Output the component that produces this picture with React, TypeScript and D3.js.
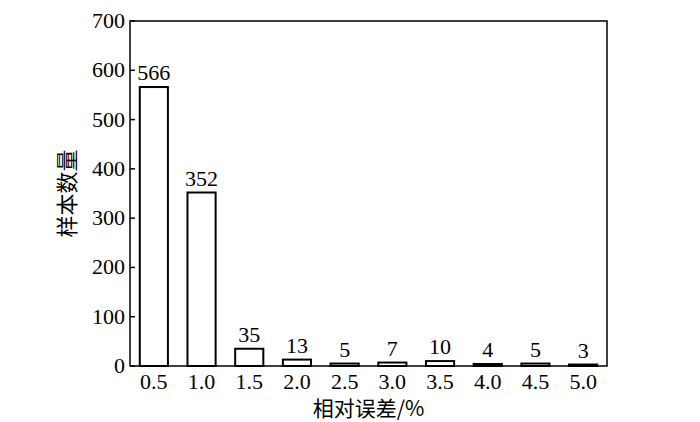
import React from 'react';
import * as d3 from 'd3';

const categories = ['0.5', '1.0', '1.5', '2.0', '2.5', '3.0', '3.5', '4.0', '4.5', '5.0'];
const counts = [566, 352, 35, 13, 5, 7, 10, 4, 5, 3];
const yTicks = [0, 100, 200, 300, 400, 500, 600, 700];

const yTitle = '样本数量';
const xTitle = '相对误差/%';

function App() {
    const width = 700;
    const height = 422;
    const margin = { top: 21, right: 93, bottom: 56, left: 130 };
    const innerW = width - margin.left - margin.right;
    const innerH = height - margin.top - margin.bottom;

    const x = d3.scaleBand()
        .domain(categories)
        .range([0, innerW])
        .paddingInner(0.41)
        .paddingOuter(0.205);

    const y = d3.scaleLinear()
        .domain([0, 700])
        .range([innerH, 0]);

    const numFont = '"Liberation Serif", "Times New Roman", serif';
    const cjkFont = '"Noto Sans CJK SC", sans-serif';
    const numSize = 22;

    return (
        <svg width={width} height={height} style={{ position: 'absolute', left: 0, top: 0, background: '#fff' }}>
            <g transform={`translate(${margin.left},${margin.top})`}>
                {/* bars */}
                {counts.map((v, i) => (
                    <rect
                        key={'b' + i}
                        x={x(categories[i])}
                        y={y(v)}
                        width={x.bandwidth()}
                        height={innerH - y(v)}
                        fill="#fff"
                        stroke="#000"
                        strokeWidth={2}
                    />
                ))}
                {/* value labels */}
                {counts.map((v, i) => (
                    <text
                        key={'l' + i}
                        x={x(categories[i]) + x.bandwidth() / 2}
                        y={y(v) - 7}
                        textAnchor="middle"
                        fontFamily={numFont}
                        fontSize={numSize}
                    >{v}</text>
                ))}
                {/* frame */}
                <rect x={0} y={0} width={innerW} height={innerH} fill="none" stroke="#000" strokeWidth={1.5} />
                {/* y ticks */}
                {yTicks.map(t => (
                    <g key={'t' + t} transform={`translate(0,${y(t)})`}>
                        <line x1={0} x2={5} stroke="#000" strokeWidth={1.5} />
                        <text x={-5} dy={7} textAnchor="end" fontFamily={numFont} fontSize={numSize}>{t}</text>
                    </g>
                ))}
                {/* x tick labels */}
                {categories.map(c => (
                    <text
                        key={'x' + c}
                        x={x(c) + x.bandwidth() / 2}
                        y={innerH + 23}
                        textAnchor="middle"
                        fontFamily={numFont}
                        fontSize={numSize}
                    >{c}</text>
                ))}
                {/* axis titles */}
                <text
                    x={innerW / 2}
                    y={innerH + 50}
                    textAnchor="middle"
                    fontFamily={cjkFont}
                    fontSize={21}
                >{xTitle}</text>
                <text
                    transform={`translate(${68 - margin.left},${innerH / 2}) rotate(-90)`}
                    textAnchor="middle"
                    dy={7}
                    fontFamily={cjkFont}
                    fontSize={22}
                >{yTitle}</text>
            </g>
        </svg>
    );
}

export default App;
